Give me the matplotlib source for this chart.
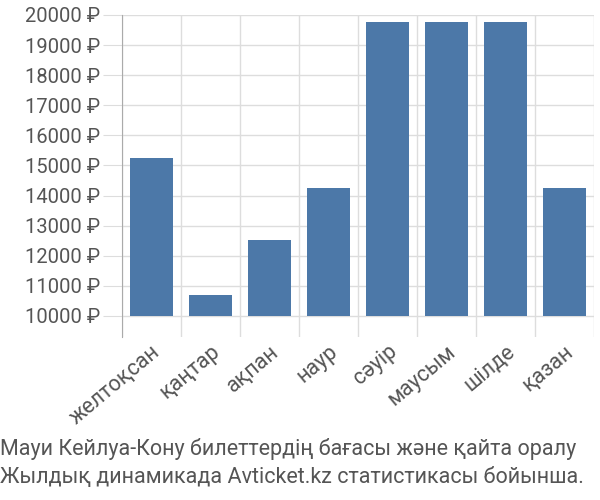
import matplotlib
matplotlib.use("Agg")
import matplotlib.pyplot as plt
from matplotlib.ticker import FuncFormatter

months = ["желтоқсан", "қаңтар", "ақпан", "наур", "сәуір", "маусым", "шілде", "қазан"]
prices = [15240, 10690, 12510, 14240, 19780, 19780, 19780, 14240]
base = 10000
title_lines = ["Мауи Кейлуа-Кону билеттердің бағасы және қайта оралу",
               "Жылдық динамикада Avticket.kz статистикасы бойынша."]

plt.rcParams['font.family'] = ['Liberation Sans Narrow', 'Roboto', 'DejaVu Sans']

fig = plt.figure(figsize=(6, 5), dpi=100)
ax = fig.add_axes([0.203, 0.326, 0.787, 0.644])

x = range(len(months))
ax.bar(x, [p - base for p in prices], bottom=base, width=0.72, color="#4c78a8", zorder=2)

ax.set_xlim(-0.5, len(months) - 0.5)
ax.set_ylim(9300, 20000)
ax.set_yticks(range(10000, 20001, 1000))
ax.yaxis.set_major_formatter(FuncFormatter(lambda v, p: f"{int(v)} ₽"))
ax.set_xticks(list(x))
ax.set_xticklabels(months, rotation=40, ha="right", va="top", rotation_mode="anchor")
ax.set_xticks([i - 0.5 for i in range(len(months) + 1)], minor=True)

ax.grid(axis="y", color="#dddddd", lw=1, zorder=0)
ax.grid(axis="x", which="minor", color="#dddddd", lw=1, zorder=0)
ax.tick_params(axis="y", length=14, color="#dddddd", labelsize=14.5, labelcolor="#555555", pad=1.5)
ax.tick_params(axis="x", which="major", length=0, labelsize=15.5, labelcolor="#555555", pad=3)
ax.tick_params(axis="x", which="minor", length=0)
for s in ["top", "right", "bottom"]:
    ax.spines[s].set_visible(False)
ax.spines["left"].set_color("#aaaaaa")

fig.text(0.0, 1 - 455 / 500, title_lines[0], fontsize=15.5, color="#555555", ha="left", va="baseline")
fig.text(0.0, 1 - 483 / 500, title_lines[1], fontsize=15.5, color="#555555", ha="left", va="baseline")

fig.savefig("out.png", dpi=100)
